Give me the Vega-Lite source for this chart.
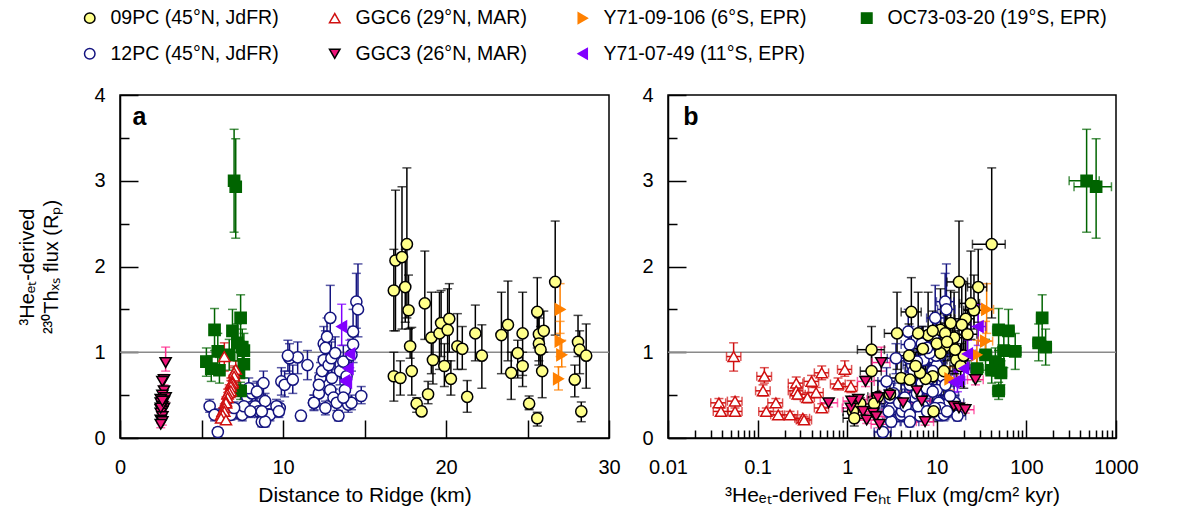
{
"$schema":"https://vega.github.io/schema/vega-lite/v6.json",
"background":"white",
"padding":{"left":17,"top":8,"right":2,"bottom":2},
"config":{
 "font":"Liberation Sans",
 "view":{"stroke":"black","strokeWidth":1.5},
 "axis":{"grid":false,"labelFontSize":20,"titleFontSize":21,"labelColor":"black","titleColor":"black","tickColor":"black","domainColor":"black","tickWidth":1.5,"domainWidth":1.5,"titleFontWeight":"normal","labelFont":"Liberation Sans","titleFont":"Liberation Sans","labelFlush":false,"labelOverlap":false},
 "legend":{"columns":4,"direction":"horizontal","labelFontSize":19.5,"labelFont":"Liberation Sans","labelColor":"black","symbolSize":110,"symbolStrokeWidth":1.5,"rowPadding":15,"columnPadding":46,"labelOffset":11,"labelLimit":400,"gridAlign":"each"}
},
"datasets":{"pts":[
{"s":"12PC","d":5.5,"y":0.37,"yl":0.30,"yh":0.45,"f":3.0,"fl":2.4,"fh":3.75},
{"s":"12PC","d":6.0,"y":0.07,"yl":0.02,"yh":0.12,"f":2.5,"fl":2.0,"fh":3.1},
{"s":"12PC","d":5.8,"y":0.27,"yl":0.20,"yh":0.34,"f":4.0,"fl":3.2,"fh":5.0},
{"s":"12PC","d":7.3,"y":0.29,"yl":0.22,"yh":0.37,"f":6.5,"fl":5.2,"fh":8.1},
{"s":"12PC","d":7.5,"y":0.27,"yl":0.20,"yh":0.34,"f":10.5,"fl":8.4,"fh":13},
{"s":"12PC","d":7.8,"y":0.48,"yl":0.38,"yh":0.58,"f":5.5,"fl":4.4,"fh":6.9},
{"s":"12PC","d":8.1,"y":0.52,"yl":0.40,"yh":0.64,"f":3.3,"fl":2.6,"fh":4.1},
{"s":"12PC","d":8.3,"y":0.37,"yl":0.28,"yh":0.46,"f":7,"fl":5.6,"fh":8.8},
{"s":"12PC","d":8.5,"y":0.31,"yl":0.24,"yh":0.38,"f":4.1,"fl":3.3,"fh":5.1},
{"s":"12PC","d":8.7,"y":0.19,"yl":0.13,"yh":0.25,"f":3.1,"fl":2.5,"fh":3.9},
{"s":"12PC","d":8.8,"y":0.64,"yl":0.50,"yh":0.78,"f":6.8,"fl":5.4,"fh":8.5},
{"s":"12PC","d":8.9,"y":0.43,"yl":0.34,"yh":0.52,"f":4.4,"fl":3.5,"fh":5.5},
{"s":"12PC","d":9.2,"y":0.27,"yl":0.20,"yh":0.34,"f":12,"fl":9.6,"fh":15},
{"s":"12PC","d":9.8,"y":0.35,"yl":0.27,"yh":0.43,"f":3.1,"fl":2.5,"fh":3.9},
{"s":"12PC","d":9.9,"y":0.66,"yl":0.50,"yh":0.82,"f":2.75,"fl":2.2,"fh":3.4},
{"s":"12PC","d":10.1,"y":0.62,"yl":0.48,"yh":0.78,"f":5,"fl":4,"fh":6.3},
{"s":"12PC","d":10.4,"y":0.93,"yl":0.75,"yh":1.10,"f":3.5,"fl":2.8,"fh":4.4},
{"s":"12PC","d":10.6,"y":0.68,"yl":0.52,"yh":0.85,"f":8,"fl":6.4,"fh":10},
{"s":"12PC","d":10.9,"y":0.94,"yl":0.75,"yh":1.12,"f":8.8,"fl":7,"fh":11},
{"s":"12PC","d":11.1,"y":0.26,"yl":0.20,"yh":0.30,"f":17,"fl":13.6,"fh":21},
{"s":"12PC","d":11.5,"y":0.85,"yl":0.68,"yh":1.02,"f":5.3,"fl":4.2,"fh":6.6},
{"s":"12PC","d":11.9,"y":0.41,"yl":0.32,"yh":0.50,"f":11,"fl":8.8,"fh":13.8},
{"s":"12PC","d":12.2,"y":0.52,"yl":0.40,"yh":0.64,"f":6,"fl":4.8,"fh":7.5},
{"s":"12PC","d":12.3,"y":0.70,"yl":0.55,"yh":0.88,"f":4.8,"fl":3.8,"fh":6},
{"s":"12PC","d":12.4,"y":0.78,"yl":0.60,"yh":0.95,"f":5.5,"fl":4.4,"fh":6.9},
{"s":"12PC","d":12.5,"y":0.91,"yl":0.72,"yh":1.10,"f":7.1,"fl":5.7,"fh":8.9},
{"s":"12PC","d":12.5,"y":1.10,"yl":0.90,"yh":1.30,"f":6.8,"fl":5.4,"fh":8.5},
{"s":"12PC","d":12.7,"y":1.18,"yl":0.95,"yh":1.40,"f":9.2,"fl":7.4,"fh":11.5},
{"s":"12PC","d":12.9,"y":1.40,"yl":1.15,"yh":1.78,"f":9.6,"fl":7.7,"fh":12},
{"s":"12PC","d":12.8,"y":0.85,"yl":0.68,"yh":1.02,"f":10,"fl":8,"fh":12.5},
{"s":"12PC","d":12.97,"y":0.93,"yl":0.75,"yh":1.12,"f":4.9,"fl":3.9,"fh":6.1},
{"s":"12PC","d":13.0,"y":0.70,"yl":0.55,"yh":0.88,"f":7.5,"fl":6,"fh":9.4},
{"s":"12PC","d":12.9,"y":0.56,"yl":0.44,"yh":0.68,"f":10,"fl":8,"fh":12.5},
{"s":"12PC","d":13.1,"y":0.47,"yl":0.37,"yh":0.57,"f":4.4,"fl":3.5,"fh":5.5},
{"s":"12PC","d":13.3,"y":0.41,"yl":0.32,"yh":0.50,"f":16,"fl":12.8,"fh":20},
{"s":"12PC","d":13.4,"y":0.26,"yl":0.20,"yh":0.32,"f":6.5,"fl":5.2,"fh":8.1},
{"s":"12PC","d":13.5,"y":0.78,"yl":0.62,"yh":0.95,"f":9,"fl":7.2,"fh":11.3},
{"s":"12PC","d":13.7,"y":0.89,"yl":0.70,"yh":1.08,"f":6,"fl":4.8,"fh":7.5},
{"s":"12PC","d":13.8,"y":0.56,"yl":0.44,"yh":0.68,"f":8.5,"fl":6.8,"fh":10.6},
{"s":"12PC","d":14.0,"y":0.39,"yl":0.30,"yh":0.48,"f":13,"fl":10.4,"fh":16.3},
{"s":"12PC","d":14.2,"y":0.97,"yl":0.78,"yh":1.15,"f":11,"fl":8.8,"fh":13.8},
{"s":"12PC","d":14.3,"y":1.24,"yl":1.00,"yh":1.50,"f":4.8,"fl":3.8,"fh":6},
{"s":"12PC","d":14.3,"y":1.09,"yl":0.88,"yh":1.30,"f":5,"fl":4,"fh":6.3},
{"s":"12PC","d":14.5,"y":1.59,"yl":1.28,"yh":1.92,"f":12.4,"fl":9.9,"fh":15.5},
{"s":"12PC","d":14.6,"y":1.50,"yl":1.18,"yh":2.03,"f":12.8,"fl":10.2,"fh":16},
{"s":"12PC","d":14.8,"y":0.49,"yl":0.40,"yh":0.60,"f":14,"fl":11.2,"fh":17.5},
{"s":"12PC","d":14.2,"y":0.41,"yl":0.33,"yh":0.50,"f":10.5,"fl":8.4,"fh":13.1},
{"s":"12PC","d":13.7,"y":0.47,"yl":0.38,"yh":0.56,"f":3,"fl":2.4,"fh":3.75},
{"s":"12PC","d":12.6,"y":0.35,"yl":0.27,"yh":0.43,"f":11,"fl":8.8,"fh":13.8},
{"s":"12PC","d":11.9,"y":0.41,"yl":0.33,"yh":0.50,"f":3.8,"fl":3,"fh":4.75},
{"s":"12PC","d":7.6,"y":0.37,"yl":0.29,"yh":0.45,"f":4.5,"fl":3.6,"fh":5.6},
{"s":"12PC","d":8.0,"y":0.31,"yl":0.24,"yh":0.38,"f":2.9,"fl":2.3,"fh":3.6},
{"s":"12PC","d":6.4,"y":0.31,"yl":0.24,"yh":0.38,"f":8,"fl":6.4,"fh":10},
{"s":"12PC","d":6.8,"y":0.27,"yl":0.21,"yh":0.33,"f":5,"fl":4,"fh":6.3},
{"s":"12PC","d":7.0,"y":0.35,"yl":0.28,"yh":0.42,"f":9.5,"fl":7.6,"fh":11.9},
{"s":"12PC","d":7.9,"y":0.58,"yl":0.46,"yh":0.70,"f":7.7,"fl":6.2,"fh":9.6},
{"s":"12PC","d":8.4,"y":0.54,"yl":0.43,"yh":0.66,"f":9,"fl":7.2,"fh":11.3},
{"s":"12PC","d":9.6,"y":0.37,"yl":0.29,"yh":0.45,"f":6.2,"fl":5,"fh":7.8},
{"s":"12PC","d":9.75,"y":0.31,"yl":0.24,"yh":0.38,"f":13,"fl":10.4,"fh":16.3},
{"s":"12PC","d":8.9,"y":0.19,"yl":0.13,"yh":0.25,"f":5,"fl":4,"fh":6.3},
{"s":"12PC","d":8.7,"y":0.31,"yl":0.24,"yh":0.38,"f":7.8,"fl":6.2,"fh":9.8},
{"s":"12PC","d":10.3,"y":0.96,"yl":0.78,"yh":1.14,"f":9.8,"fl":7.8,"fh":12.3},
{"s":"12PC","d":13.2,"y":0.99,"yl":0.80,"yh":1.18,"f":8.3,"fl":6.6,"fh":10.4},
{"s":"12PC","d":12.6,"y":1.05,"yl":0.85,"yh":1.25,"f":7.8,"fl":6.2,"fh":9.8},
{"s":"12PC","d":13.9,"y":0.72,"yl":0.58,"yh":0.88,"f":11.5,"fl":9.2,"fh":14.4},
{"s":"12PC","d":12.2,"y":0.62,"yl":0.49,"yh":0.76,"f":12.5,"fl":10,"fh":15.6},
{"s":"09PC","d":16.8,"y":1.72,"yl":1.25,"yh":2.20},
{"s":"09PC","d":16.9,"y":2.07,"yl":1.25,"yh":2.89},
{"s":"09PC","d":17.3,"y":2.11,"yl":1.27,"yh":2.93},
{"s":"09PC","d":17.6,"y":2.26,"yl":1.40,"yh":3.15,"f":41,"fl":25,"fh":58},
{"s":"09PC","d":17.5,"y":1.76,"yl":1.35,"yh":2.20,"f":29,"fl":22,"fh":36},
{"s":"09PC","d":17.7,"y":1.49,"yl":1.27,"yh":1.90,"f":26,"fl":20,"fh":33},
{"s":"09PC","d":17.8,"y":1.07,"yl":0.93,"yh":1.28,"f":15,"fl":11,"fh":19},
{"s":"09PC","d":17.9,"y":0.78,"yl":0.50,"yh":1.29,"f":12,"fl":9,"fh":15},
{"s":"09PC","d":16.8,"y":0.72,"yl":0.43,"yh":1.00,"f":9,"fl":7,"fh":11},
{"s":"09PC","d":17.2,"y":0.70,"yl":0.50,"yh":0.90,"f":4,"fl":3,"fh":5},
{"s":"09PC","d":18.2,"y":0.40,"yl":0.30,"yh":0.47,"f":1.4,"fl":1.1,"fh":1.8},
{"s":"09PC","d":18.5,"y":0.31,"yl":0.27,"yh":0.36,"f":1.16,"fl":0.9,"fh":1.5},
{"s":"09PC","d":18.9,"y":0.51,"yl":0.40,"yh":0.66,"f":3,"fl":2.3,"fh":3.8},
{"s":"09PC","d":18.7,"y":1.57,"yl":1.15,"yh":2.18,"f":24,"fl":18,"fh":30},
{"s":"09PC","d":19.1,"y":1.17,"yl":0.75,"yh":1.70,"f":15.6,"fl":12,"fh":20},
{"s":"09PC","d":19.2,"y":0.91,"yl":0.63,"yh":1.20,"f":16.5,"fl":13,"fh":21},
{"s":"09PC","d":19.6,"y":1.22,"yl":0.80,"yh":1.70,"f":3.6,"fl":2.6,"fh":4.8},
{"s":"09PC","d":19.7,"y":1.34,"yl":0.95,"yh":1.72,"f":14.3,"fl":11,"fh":18},
{"s":"09PC","d":19.9,"y":0.84,"yl":0.60,"yh":1.10,"f":18.5,"fl":14,"fh":23},
{"s":"09PC","d":20.1,"y":1.26,"yl":0.90,"yh":1.74,"f":11,"fl":8.5,"fh":14},
{"s":"09PC","d":20.2,"y":1.39,"yl":1.00,"yh":1.80,"f":21,"fl":16,"fh":26},
{"s":"09PC","d":20.3,"y":0.69,"yl":0.50,"yh":0.90,"f":7.5,"fl":5.8,"fh":9.5},
{"s":"09PC","d":20.7,"y":1.07,"yl":0.80,"yh":1.45,"f":12.4,"fl":9.5,"fh":16},
{"s":"09PC","d":21.0,"y":1.04,"yl":0.80,"yh":1.30,"f":7,"fl":5.5,"fh":9},
{"s":"09PC","d":21.3,"y":0.48,"yl":0.30,"yh":0.67,"f":2.2,"fl":1.7,"fh":2.8},
{"s":"09PC","d":21.8,"y":1.22,"yl":0.90,"yh":1.55,"f":12.4,"fl":9.5,"fh":16},
{"s":"09PC","d":22.2,"y":0.96,"yl":0.58,"yh":1.32,"f":20,"fl":15,"fh":25},
{"s":"09PC","d":23.4,"y":1.20,"yl":0.75,"yh":1.70,"f":8,"fl":6,"fh":10},
{"s":"09PC","d":23.8,"y":1.32,"yl":0.90,"yh":1.83,"f":19,"fl":15,"fh":24},
{"s":"09PC","d":24.0,"y":0.76,"yl":0.45,"yh":1.00,"f":6.5,"fl":5,"fh":8.3},
{"s":"09PC","d":24.4,"y":0.99,"yl":0.70,"yh":1.14,"f":11,"fl":8.5,"fh":14},
{"s":"09PC","d":24.7,"y":0.84,"yl":0.60,"yh":1.00,"f":5.8,"fl":4.5,"fh":7.5},
{"s":"09PC","d":24.7,"y":1.22,"yl":0.73,"yh":1.70,"f":6.2,"fl":4.8,"fh":8},
{"s":"09PC","d":25.1,"y":0.40,"yl":0.33,"yh":0.49,"f":2,"fl":1.5,"fh":2.6},
{"s":"09PC","d":25.6,"y":1.47,"yl":1.05,"yh":1.87,"f":5.2,"fl":4,"fh":6.7},
{"s":"09PC","d":25.6,"y":0.23,"yl":0.14,"yh":0.30,"f":1.2,"fl":0.9,"fh":1.6},
{"s":"09PC","d":25.7,"y":1.21,"yl":0.90,"yh":1.50,"f":22,"fl":17,"fh":28},
{"s":"09PC","d":25.7,"y":1.10,"yl":0.85,"yh":1.40,"f":10,"fl":7.5,"fh":13},
{"s":"09PC","d":25.8,"y":1.03,"yl":0.80,"yh":1.30,"f":1.87,"fl":1.3,"fh":2.6},
{"s":"09PC","d":25.9,"y":0.78,"yl":0.47,"yh":1.00,"f":1.87,"fl":1.4,"fh":2.4},
{"s":"09PC","d":26.0,"y":1.25,"yl":1.00,"yh":1.48,"f":9,"fl":7,"fh":11.5},
{"s":"09PC","d":26.7,"y":1.82,"yl":1.20,"yh":2.53,"f":17.7,"fl":13,"fh":22},
{"s":"09PC","d":27.9,"y":0.68,"yl":0.48,"yh":0.85,"f":5,"fl":3.8,"fh":6.4},
{"s":"09PC","d":28.1,"y":1.12,"yl":0.95,"yh":1.43,"f":13,"fl":10,"fh":16.5},
{"s":"09PC","d":28.2,"y":1.03,"yl":0.75,"yh":1.25,"f":16,"fl":12,"fh":20},
{"s":"09PC","d":28.3,"y":0.31,"yl":0.19,"yh":0.42,"f":9.2,"fl":7,"fh":12},
{"s":"09PC","d":28.6,"y":0.96,"yl":0.58,"yh":1.33,"f":4.9,"fl":3.8,"fh":6.3},
{"s":"OC73-03-20","d":7.0,"y":3.00,"yl":2.40,"yh":3.60,"f":470,"fl":300,"fh":650},
{"s":"OC73-03-20","d":7.1,"y":2.93,"yl":2.33,"yh":3.49,"f":600,"fl":340,"fh":890},
{"s":"OC73-03-20","d":7.4,"y":1.40,"yl":1.13,"yh":1.67,"f":150,"fl":130,"fh":170},
{"s":"OC73-03-20","d":5.8,"y":1.26,"yl":1.02,"yh":1.51,"f":49,"fl":42,"fh":57},
{"s":"OC73-03-20","d":6.9,"y":1.25,"yl":1.00,"yh":1.50,"f":63,"fl":54,"fh":73},
{"s":"OC73-03-20","d":7.2,"y":1.11,"yl":0.90,"yh":1.33,"f":137,"fl":118,"fh":158},
{"s":"OC73-03-20","d":7.5,"y":1.06,"yl":0.85,"yh":1.27,"f":164,"fl":141,"fh":190},
{"s":"OC73-03-20","d":6.0,"y":1.01,"yl":0.80,"yh":1.22,"f":75,"fl":64,"fh":87},
{"s":"OC73-03-20","d":7.6,"y":1.02,"yl":0.82,"yh":1.22,"f":56,"fl":48,"fh":65},
{"s":"OC73-03-20","d":5.3,"y":0.89,"yl":0.72,"yh":1.05,"f":45,"fl":39,"fh":52},
{"s":"OC73-03-20","d":7.6,"y":0.86,"yl":0.70,"yh":1.02,"f":49,"fl":42,"fh":57},
{"s":"OC73-03-20","d":6.7,"y":0.97,"yl":0.79,"yh":1.15,"f":35,"fl":30,"fh":41},
{"s":"OC73-03-20","d":6.1,"y":0.79,"yl":0.64,"yh":0.94,"f":41,"fl":35,"fh":48},
{"s":"OC73-03-20","d":5.6,"y":0.81,"yl":0.66,"yh":0.96,"f":28,"fl":24,"fh":33},
{"s":"OC73-03-20","d":7.3,"y":0.76,"yl":0.62,"yh":0.90,"f":52,"fl":45,"fh":60},
{"s":"OC73-03-20","d":7.4,"y":0.55,"yl":0.45,"yh":0.65,"f":49,"fl":42,"fh":57},
{"s":"GGC6","d":6.4,"y":0.95,"yl":0.78,"yh":1.11,"f":0.054,"fl":0.045,"fh":0.065},
{"s":"GGC6","d":7.1,"y":0.80,"yl":0.72,"yh":0.90,"f":0.94,"fl":0.78,"fh":1.12},
{"s":"GGC6","d":7.0,"y":0.76,"yl":0.68,"yh":0.84,"f":0.52,"fl":0.43,"fh":0.62},
{"s":"GGC6","d":7.0,"y":0.72,"yl":0.64,"yh":0.82,"f":0.119,"fl":0.098,"fh":0.143},
{"s":"GGC6","d":6.9,"y":0.66,"yl":0.59,"yh":0.73,"f":0.40,"fl":0.33,"fh":0.48},
{"s":"GGC6","d":6.9,"y":0.64,"yl":0.57,"yh":0.71,"f":0.27,"fl":0.22,"fh":0.32},
{"s":"GGC6","d":6.8,"y":0.63,"yl":0.56,"yh":0.70,"f":0.79,"fl":0.65,"fh":0.95},
{"s":"GGC6","d":6.8,"y":0.60,"yl":0.53,"yh":0.67,"f":1.1,"fl":0.9,"fh":1.3},
{"s":"GGC6","d":6.7,"y":0.55,"yl":0.49,"yh":0.62,"f":0.115,"fl":0.095,"fh":0.138},
{"s":"GGC6","d":6.8,"y":0.55,"yl":0.49,"yh":0.61,"f":0.27,"fl":0.22,"fh":0.32},
{"s":"GGC6","d":6.7,"y":0.53,"yl":0.47,"yh":0.59,"f":0.45,"fl":0.37,"fh":0.54},
{"s":"GGC6","d":6.6,"y":0.51,"yl":0.45,"yh":0.57,"f":0.28,"fl":0.23,"fh":0.34},
{"s":"GGC6","d":6.6,"y":0.47,"yl":0.41,"yh":0.53,"f":0.36,"fl":0.30,"fh":0.43},
{"s":"GGC6","d":6.5,"y":0.43,"yl":0.38,"yh":0.48,"f":0.056,"fl":0.046,"fh":0.067},
{"s":"GGC6","d":6.5,"y":0.41,"yl":0.36,"yh":0.46,"f":0.037,"fl":0.030,"fh":0.044},
{"s":"GGC6","d":6.5,"y":0.41,"yl":0.36,"yh":0.46,"f":0.16,"fl":0.13,"fh":0.19},
{"s":"GGC6","d":6.4,"y":0.35,"yl":0.30,"yh":0.40,"f":0.52,"fl":0.43,"fh":0.62},
{"s":"GGC6","d":6.3,"y":0.31,"yl":0.27,"yh":0.35,"f":0.039,"fl":0.032,"fh":0.047},
{"s":"GGC6","d":6.3,"y":0.31,"yl":0.27,"yh":0.35,"f":0.056,"fl":0.046,"fh":0.067},
{"s":"GGC6","d":6.4,"y":0.31,"yl":0.27,"yh":0.35,"f":0.125,"fl":0.103,"fh":0.15},
{"s":"GGC6","d":6.2,"y":0.27,"yl":0.23,"yh":0.31,"f":0.17,"fl":0.14,"fh":0.20},
{"s":"GGC6","d":6.3,"y":0.27,"yl":0.23,"yh":0.31,"f":0.23,"fl":0.19,"fh":0.28},
{"s":"GGC6","d":6.2,"y":0.23,"yl":0.19,"yh":0.27,"f":0.32,"fl":0.26,"fh":0.38},
{"s":"GGC6","d":6.5,"y":0.21,"yl":0.17,"yh":0.25,"f":0.33,"fl":0.27,"fh":0.40},
{"s":"Y71-09-106","d":27.0,"y":1.50,"yl":1.22,"yh":1.80,"f":36,"fl":30,"fh":43},
{"s":"Y71-09-106","d":27.0,"y":1.13,"yl":0.95,"yh":1.36,"f":35,"fl":29,"fh":42},
{"s":"Y71-09-106","d":27.1,"y":0.97,"yl":0.83,"yh":1.14,"f":28,"fl":23,"fh":34},
{"s":"Y71-09-106","d":26.9,"y":0.69,"yl":0.56,"yh":0.83,"f":14,"fl":11.5,"fh":17},
{"s":"Y71-07-49","d":13.6,"y":1.30,"yl":1.08,"yh":1.56,"f":29,"fl":24,"fh":35},
{"s":"Y71-07-49","d":14.1,"y":0.98,"yl":0.82,"yh":1.14,"f":22,"fl":18,"fh":27},
{"s":"Y71-07-49","d":14.0,"y":0.81,"yl":0.68,"yh":0.95,"f":20,"fl":16.5,"fh":24},
{"s":"Y71-07-49","d":13.8,"y":0.67,"yl":0.54,"yh":0.80,"f":17,"fl":14,"fh":20.5},
{"s":"Y71-07-49","d":13.9,"y":0.65,"yl":0.53,"yh":0.78,"f":15.6,"fl":13,"fh":19},
{"s":"GGC3","d":2.8,"y":0.88,"yl":0.78,"yh":1.06,"f":2.4,"fl":1.9,"fh":3.0},
{"s":"GGC3","d":2.7,"y":0.68,"yl":0.62,"yh":0.74,"f":27,"fl":22,"fh":33},
{"s":"GGC3","d":2.6,"y":0.66,"yl":0.60,"yh":0.72,"f":1.6,"fl":1.3,"fh":2.0},
{"s":"GGC3","d":2.7,"y":0.55,"yl":0.50,"yh":0.60,"f":6,"fl":4.8,"fh":7.5},
{"s":"GGC3","d":2.6,"y":0.50,"yl":0.45,"yh":0.55,"f":3,"fl":2.4,"fh":3.8},
{"s":"GGC3","d":2.8,"y":0.47,"yl":0.42,"yh":0.52,"f":2.2,"fl":1.8,"fh":2.7},
{"s":"GGC3","d":2.5,"y":0.45,"yl":0.40,"yh":0.50,"f":1.33,"fl":1.06,"fh":1.66},
{"s":"GGC3","d":2.7,"y":0.43,"yl":0.38,"yh":0.48,"f":6.8,"fl":5.4,"fh":8.5},
{"s":"GGC3","d":2.6,"y":0.41,"yl":0.36,"yh":0.46,"f":4.2,"fl":3.4,"fh":5.2},
{"s":"GGC3","d":2.5,"y":0.41,"yl":0.36,"yh":0.46,"f":0.62,"fl":0.5,"fh":0.78},
{"s":"GGC3","d":2.6,"y":0.37,"yl":0.33,"yh":0.41,"f":15.5,"fl":12.4,"fh":19.4},
{"s":"GGC3","d":2.7,"y":0.35,"yl":0.31,"yh":0.39,"f":17.7,"fl":14,"fh":22},
{"s":"GGC3","d":2.5,"y":0.33,"yl":0.29,"yh":0.37,"f":20.8,"fl":16.6,"fh":26},
{"s":"GGC3","d":2.6,"y":0.31,"yl":0.27,"yh":0.35,"f":1.5,"fl":1.2,"fh":1.9},
{"s":"GGC3","d":2.5,"y":0.29,"yl":0.25,"yh":0.33,"f":1.95,"fl":1.56,"fh":2.44},
{"s":"GGC3","d":2.6,"y":0.25,"yl":0.21,"yh":0.29,"f":2.1,"fl":1.7,"fh":2.6},
{"s":"GGC3","d":2.5,"y":0.21,"yl":0.17,"yh":0.25,"f":1.65,"fl":1.3,"fh":2.1},
{"s":"GGC3","d":2.6,"y":0.19,"yl":0.15,"yh":0.23,"f":7.4,"fl":5.9,"fh":9.2},
{"s":"GGC3","d":2.5,"y":0.35,"yl":0.31,"yh":0.39,"f":1.1,"fl":0.88,"fh":1.38},
{"s":"GGC3","d":2.6,"y":0.43,"yl":0.38,"yh":0.48,"f":1.12,"fl":0.9,"fh":1.4},
{"s":"GGC3","d":2.5,"y":0.16,"yl":0.12,"yh":0.20,"f":2.3,"fl":1.85,"fh":2.9}
]},
"spacing":20,
"hconcat":[
{
 "width":489,"height":343,
 "data":{"name":"pts"},
 "resolve":{"axis":{"x":"independent","y":"independent"}},
 "layer":[
  {"data":{"values":[{}]},"mark":{"type":"rule","color":"#8a8a8a","strokeWidth":1.5},
   "encoding":{"y":{"datum":1,"type":"quantitative","scale":{"domain":[0,4]},
     "axis":{"orient":"left","values":[0,1,2,3,4],"tickSize":-18,"labelPadding":33,"title":["³Heₑₜ-derived","²³⁰Thₓₛ flux (Rₚ)"],"titleFontSize":20,"titlePadding":32,"titleLineHeight":24}}}},
  {"mark":{"type":"rule","strokeWidth":1.5},
   "encoding":{
    "x":{"field":"d","type":"quantitative","scale":{"domain":[0,30]},"axis":{"orient":"bottom","values":[0,5,10,15,20,25,30],"tickSize":-18,"labelPadding":37,"labelExpr":"datum.value % 10 == 0 ? datum.label : ''","title":"Distance to Ridge (km)","titlePadding":7}},
    "y":{"field":"yl","type":"quantitative","scale":{"domain":[0,4]},"axis":{"orient":"left","values":[0.5,1.5,2.5,3.5],"tickSize":-9,"labels":false,"domain":false,"title":null}},
    "y2":{"field":"yh"},
    "color":{"field":"s","type":"nominal","scale":{"domain":["12PC","09PC","GGC6","GGC3","Y71-09-106","Y71-07-49","OC73-03-20"],"range":["#141480","#000000","#D01010","#FF2A8C","#FF8000","#8000FF","#006400"]},"legend":null}}},
  {"mark":{"type":"tick","orient":"horizontal","size":9,"thickness":1.5},
   "encoding":{"x":{"field":"d","type":"quantitative","scale":{"domain":[0,30]},"axis":null},"y":{"field":"yh","type":"quantitative","scale":{"domain":[0,4]},"axis":null},
    "color":{"field":"s","type":"nominal","legend":null}}},
  {"mark":{"type":"tick","orient":"horizontal","size":9,"thickness":1.5},
   "encoding":{"x":{"field":"d","type":"quantitative","scale":{"domain":[0,30]},"axis":null},"y":{"field":"yl","type":"quantitative","scale":{"domain":[0,4]},"axis":null},
    "color":{"field":"s","type":"nominal","legend":null}}},
  {"mark":{"type":"point","size":125,"strokeWidth":1.5,"opacity":1},
   "encoding":{"x":{"field":"d","type":"quantitative","scale":{"domain":[0,30]},"axis":null},"y":{"field":"y","type":"quantitative","scale":{"domain":[0,4]},"axis":null},
    "fill":{"field":"s","type":"nominal","scale":{"domain":["09PC","GGC6","Y71-09-106","OC73-03-20","12PC","GGC3","Y71-07-49"],"range":["#FFFF8A","#FFFFFF","#FF8000","#006400","#FFFFFF","#EE1478","#8000FF"]},"legend":{"title":null,"orient":"none","direction":"horizontal","legendX":-40,"legendY":-87,"labelExpr":"datum.label == '09PC' ? '09PC (45°N, JdFR)' : datum.label == '12PC' ? '12PC (45°N, JdFR)' : datum.label == 'GGC6' ? 'GGC6 (29°N, MAR)' : datum.label == 'GGC3' ? 'GGC3 (26°N, MAR)' : datum.label == 'Y71-09-106' ? 'Y71-09-106 (6°S, EPR)' : datum.label == 'Y71-07-49' ? 'Y71-07-49  (11°S, EPR)' : 'OC73-03-20 (19°S, EPR)'"}},
    "stroke":{"field":"s","type":"nominal","scale":{"domain":["09PC","GGC6","Y71-09-106","OC73-03-20","12PC","GGC3","Y71-07-49"],"range":["#000000","#D01010","#FF8000","#006400","#141480","#000000","#8000FF"]},"legend":{"title":null,"orient":"none","direction":"horizontal","legendX":-40,"legendY":-87,"labelExpr":"datum.label == '09PC' ? '09PC (45°N, JdFR)' : datum.label == '12PC' ? '12PC (45°N, JdFR)' : datum.label == 'GGC6' ? 'GGC6 (29°N, MAR)' : datum.label == 'GGC3' ? 'GGC3 (26°N, MAR)' : datum.label == 'Y71-09-106' ? 'Y71-09-106 (6°S, EPR)' : datum.label == 'Y71-07-49' ? 'Y71-07-49  (11°S, EPR)' : 'OC73-03-20 (19°S, EPR)'"}},
    "shape":{"field":"s","type":"nominal","scale":{"domain":["09PC","GGC6","Y71-09-106","OC73-03-20","12PC","GGC3","Y71-07-49"],"range":["circle","triangle-up","triangle-right","square","circle","triangle-down","triangle-left"]},"legend":{"title":null,"orient":"none","direction":"horizontal","legendX":-40,"legendY":-87,"labelExpr":"datum.label == '09PC' ? '09PC (45°N, JdFR)' : datum.label == '12PC' ? '12PC (45°N, JdFR)' : datum.label == 'GGC6' ? 'GGC6 (29°N, MAR)' : datum.label == 'GGC3' ? 'GGC3 (26°N, MAR)' : datum.label == 'Y71-09-106' ? 'Y71-09-106 (6°S, EPR)' : datum.label == 'Y71-07-49' ? 'Y71-07-49  (11°S, EPR)' : 'OC73-03-20 (19°S, EPR)'"}}}},
  {"data":{"values":[{}]},"mark":{"type":"text","text":"a","fontSize":25,"fontWeight":"bold","font":"Liberation Sans","color":"black"},
   "encoding":{"x":{"datum":1.2,"type":"quantitative","scale":{"domain":[0,30]},"axis":null},"y":{"datum":3.74,"type":"quantitative","scale":{"domain":[0,4]},"axis":null}}}
 ]
},
{
 "width":448,"height":343,
 "data":{"name":"pts"},
 "resolve":{"axis":{"x":"independent","y":"independent"}},
 "layer":[
  {"data":{"values":[{}]},"mark":{"type":"rule","color":"#8a8a8a","strokeWidth":1.5},
   "encoding":{"y":{"datum":1,"type":"quantitative","scale":{"domain":[0,4]},
     "axis":{"orient":"left","values":[0,1,2,3,4],"tickSize":-18,"labelPadding":33,"title":null}}}},
  {"mark":{"type":"rule","strokeWidth":1.5},
   "encoding":{
    "x":{"field":"f","type":"quantitative","scale":{"type":"log","domain":[0.01,1000]},"axis":{"orient":"bottom","values":[0.01,0.1,1,10,100,1000],"format":"~g","tickSize":-18,"labelPadding":37,"title":"³Heₑₜ-derived Feₕₜ Flux (mg/cm² kyr)","titlePadding":7}},
    "y":{"field":"yl","type":"quantitative","scale":{"domain":[0,4]},"axis":{"orient":"left","values":[0.5,1.5,2.5,3.5],"tickSize":-9,"labels":false,"domain":false,"title":null}},
    "y2":{"field":"yh"},
    "color":{"field":"s","type":"nominal","legend":null}}},
  {"mark":{"type":"tick","orient":"horizontal","size":9,"thickness":1.5},
   "encoding":{"x":{"field":"f","type":"quantitative","scale":{"type":"log","domain":[0.01,1000]},"axis":null},"y":{"field":"yh","type":"quantitative","scale":{"domain":[0,4]},"axis":null},
    "color":{"field":"s","type":"nominal","legend":null}}},
  {"mark":{"type":"tick","orient":"horizontal","size":9,"thickness":1.5},
   "encoding":{"x":{"field":"f","type":"quantitative","scale":{"type":"log","domain":[0.01,1000]},"axis":null},"y":{"field":"yl","type":"quantitative","scale":{"domain":[0,4]},"axis":null},
    "color":{"field":"s","type":"nominal","legend":null}}},
  {"mark":{"type":"rule","strokeWidth":1.5},
   "encoding":{
    "x":{"field":"fl","type":"quantitative","scale":{"type":"log","domain":[0.01,1000]},"axis":{"orient":"bottom","values":[0.02,0.03,0.04,0.05,0.06,0.07,0.08,0.09,0.2,0.3,0.4,0.5,0.6,0.7,0.8,0.9,2,3,4,5,6,7,8,9,20,30,40,50,60,70,80,90,200,300,400,500,600,700,800,900],"tickSize":-8,"labels":false,"domain":false,"title":null}},
    "x2":{"field":"fh"},
    "y":{"field":"y","type":"quantitative","scale":{"domain":[0,4]},"axis":null},
    "color":{"field":"s","type":"nominal","legend":null}}},
  {"mark":{"type":"tick","orient":"vertical","size":9,"thickness":1.5},
   "encoding":{"x":{"field":"fl","type":"quantitative","scale":{"type":"log","domain":[0.01,1000]},"axis":null},"y":{"field":"y","type":"quantitative","scale":{"domain":[0,4]},"axis":null},
    "color":{"field":"s","type":"nominal","legend":null}}},
  {"mark":{"type":"tick","orient":"vertical","size":9,"thickness":1.5},
   "encoding":{"x":{"field":"fh","type":"quantitative","scale":{"type":"log","domain":[0.01,1000]},"axis":null},"y":{"field":"y","type":"quantitative","scale":{"domain":[0,4]},"axis":null},
    "color":{"field":"s","type":"nominal","legend":null}}},
  {"mark":{"type":"point","size":125,"strokeWidth":1.5,"opacity":1},
   "encoding":{"x":{"field":"f","type":"quantitative","scale":{"type":"log","domain":[0.01,1000]},"axis":null},"y":{"field":"y","type":"quantitative","scale":{"domain":[0,4]},"axis":null},
    "fill":{"field":"s","type":"nominal","legend":{"title":null,"orient":"none","direction":"horizontal","legendX":-40,"legendY":-87,"labelExpr":"datum.label == '09PC' ? '09PC (45°N, JdFR)' : datum.label == '12PC' ? '12PC (45°N, JdFR)' : datum.label == 'GGC6' ? 'GGC6 (29°N, MAR)' : datum.label == 'GGC3' ? 'GGC3 (26°N, MAR)' : datum.label == 'Y71-09-106' ? 'Y71-09-106 (6°S, EPR)' : datum.label == 'Y71-07-49' ? 'Y71-07-49  (11°S, EPR)' : 'OC73-03-20 (19°S, EPR)'"}},
    "stroke":{"field":"s","type":"nominal","legend":{"title":null,"orient":"none","direction":"horizontal","legendX":-40,"legendY":-87,"labelExpr":"datum.label == '09PC' ? '09PC (45°N, JdFR)' : datum.label == '12PC' ? '12PC (45°N, JdFR)' : datum.label == 'GGC6' ? 'GGC6 (29°N, MAR)' : datum.label == 'GGC3' ? 'GGC3 (26°N, MAR)' : datum.label == 'Y71-09-106' ? 'Y71-09-106 (6°S, EPR)' : datum.label == 'Y71-07-49' ? 'Y71-07-49  (11°S, EPR)' : 'OC73-03-20 (19°S, EPR)'"}},
    "shape":{"field":"s","type":"nominal","legend":{"title":null,"orient":"none","direction":"horizontal","legendX":-40,"legendY":-87,"labelExpr":"datum.label == '09PC' ? '09PC (45°N, JdFR)' : datum.label == '12PC' ? '12PC (45°N, JdFR)' : datum.label == 'GGC6' ? 'GGC6 (29°N, MAR)' : datum.label == 'GGC3' ? 'GGC3 (26°N, MAR)' : datum.label == 'Y71-09-106' ? 'Y71-09-106 (6°S, EPR)' : datum.label == 'Y71-07-49' ? 'Y71-07-49  (11°S, EPR)' : 'OC73-03-20 (19°S, EPR)'"}}}},
  {"data":{"values":[{}]},"mark":{"type":"text","text":"b","fontSize":25,"fontWeight":"bold","font":"Liberation Sans","color":"black"},
   "encoding":{"x":{"datum":0.018,"type":"quantitative","scale":{"type":"log","domain":[0.01,1000]},"axis":null},"y":{"datum":3.74,"type":"quantitative","scale":{"domain":[0,4]},"axis":null}}}
 ]
}
]
}
